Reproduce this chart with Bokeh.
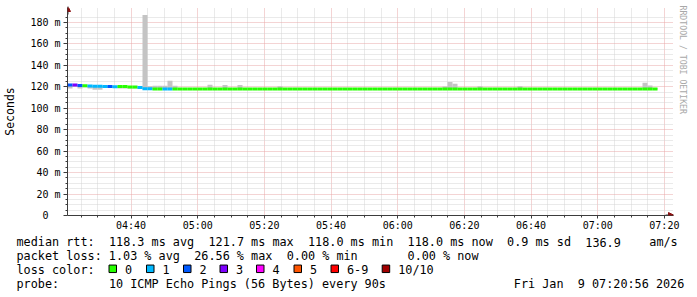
import re
import pandas as pd
from bokeh.plotting import figure
from bokeh.models import (ColumnDataSource, Range1d, FixedTicker, DatetimeTickFormatter,
                          Arrow, NormalHead, Title)
from bokeh.embed import file_html
from bokeh.resources import INLINE
from bokeh.core.properties import value

# ---------------- data ----------------
start_time = "2026-01-09 04:20:56"
end_time = "2026-01-09 07:20:56"
step_seconds = 90

median_ms = [
    121.7, 121.6, 121.2, 121.0, 120.7, 120.5, 120.5, 120.2, 120.2, 120.0,
    120.3, 120.3, 119.8, 119.8, 119.3, 118.3, 118.3, 118.0, 118.0, 118.0,
    118.0, 118.0, 118.0, 118.0, 118.0, 118.0, 118.0, 118.0, 118.0, 118.0,
    118.0, 118.0, 118.0, 118.0, 118.0, 118.0, 118.0, 118.0, 118.0, 118.0,
    118.0, 118.0, 118.0, 118.0, 118.0, 118.0, 118.0, 118.0, 118.0, 118.0,
    118.0, 118.0, 118.0, 118.0, 118.0, 118.0, 118.0, 118.0, 118.0, 118.0,
    118.0, 118.0, 118.0, 118.0, 118.0, 118.0, 118.0, 118.0, 118.0, 118.0,
    118.0, 118.0, 118.0, 118.0, 118.0, 118.0, 118.0, 118.0, 118.0, 118.0,
    118.0, 118.0, 118.0, 118.0, 118.0, 118.0, 118.0, 118.0, 118.0, 118.0,
    118.0, 118.0, 118.0, 118.0, 118.0, 118.0, 118.0, 118.0, 118.0, 118.0,
    118.0, 118.0, 118.0, 118.0, 118.0, 118.0, 118.0, 118.0, 118.0, 118.0,
    118.0, 118.0, 118.0, 118.0, 118.0, 118.0, 118.0, 118.0,
]

loss_count = [
    2, 3, 2, 0, 1, 1, 1, 1, 2, 1,
    0, 0, 0, 0, 1, 1, 1, 0, 0, 1,
    1, 0, 0, 0, 0, 0, 0, 0, 0, 0,
    0, 0, 0, 0, 0, 0, 0, 0, 0, 0,
    0, 0, 0, 0, 0, 0, 0, 0, 0, 0,
    0, 0, 0, 0, 0, 0, 0, 0, 0, 0,
    0, 0, 0, 0, 0, 0, 0, 0, 0, 0,
    0, 0, 0, 0, 0, 0, 0, 0, 0, 0,
    0, 0, 0, 0, 0, 0, 0, 0, 0, 0,
    0, 0, 0, 0, 0, 0, 0, 0, 0, 0,
    0, 0, 0, 0, 0, 0, 0, 0, 0, 0,
    0, 0, 0, 0, 0, 0, 0, 0,
]

smoke_hi = [
    122.0, 121.9, 121.5, 121.3, 121.0, 120.8, 120.8, 120.5, 120.5, 120.3,
    120.6, 120.6, 120.1, 120.1, 119.6, 187.0, 120.5, 121.0, 121.0, 121.0,
    125.6, 121.0, 119.0, 119.0, 119.0, 119.0, 119.0, 119.0, 121.9, 119.0,
    119.0, 121.8, 119.0, 119.0, 121.8, 119.0, 119.0, 119.0, 119.0, 119.0,
    119.0, 119.0, 120.5, 119.0, 119.0, 119.0, 119.0, 119.0, 119.0, 119.0,
    119.0, 119.0, 119.0, 119.0, 119.0, 119.0, 119.0, 119.0, 119.0, 119.0,
    119.0, 119.0, 119.0, 119.0, 119.0, 119.0, 119.0, 119.0, 119.0, 119.0,
    119.0, 119.0, 119.0, 119.0, 119.0, 120.2, 124.6, 122.8, 119.0, 119.0,
    119.0, 119.0, 120.5, 119.0, 119.0, 119.0, 119.0, 119.0, 119.0, 119.0,
    120.5, 119.0, 119.0, 119.0, 119.0, 119.0, 119.0, 119.0, 119.0, 119.0,
    119.0, 119.0, 119.0, 119.0, 119.0, 119.0, 119.0, 119.0, 119.0, 119.0,
    119.0, 119.0, 119.0, 119.0, 119.0, 123.8, 121.2, 119.0,
]

smoke_lo = [
    118.5, 120.0, 118.5, 119.5, 118.5, 117.2, 117.2, 119.0, 119.0, 119.0,
    118.5, 118.5, 118.5, 118.5, 118.0, 117.5, 117.5, 117.5, 117.5, 117.5,
    117.5, 117.5, 117.5, 117.5, 117.5, 117.5, 117.5, 117.5, 117.5, 117.5,
    117.5, 117.5, 117.5, 117.5, 117.5, 117.5, 117.5, 117.5, 117.5, 117.5,
    117.5, 117.5, 117.5, 117.5, 117.5, 117.5, 117.5, 117.5, 117.5, 117.5,
    117.5, 117.5, 117.5, 117.5, 117.5, 117.5, 117.5, 117.5, 117.5, 117.5,
    117.5, 117.5, 117.5, 117.5, 117.5, 117.5, 117.5, 117.5, 117.5, 117.5,
    117.5, 117.5, 117.5, 117.5, 117.5, 117.5, 117.5, 117.5, 117.5, 117.5,
    117.5, 117.5, 117.5, 117.5, 117.5, 117.5, 117.5, 117.5, 117.5, 117.5,
    117.5, 117.5, 117.5, 117.5, 117.5, 117.5, 117.5, 117.5, 117.5, 117.5,
    117.5, 117.5, 117.5, 117.5, 117.5, 117.5, 117.5, 117.5, 117.5, 117.5,
    117.5, 117.5, 117.5, 117.5, 117.5, 117.5, 117.5, 117.5,
]

x_tick_labels = ["04:40", "05:00", "05:20", "05:40", "06:00", "06:20", "06:40", "07:00", "07:20"]
y_ticks = [0, 20, 40, 60, 80, 100, 120, 140, 160, 180]
y_tick_labels = ["0\u00a0\u00a0", "20 m", "40 m", "60 m", "80 m", "100 m", "120 m", "140 m", "160 m", "180 m"]

loss_labels = ["0", "1", "2", "3", "4", "5", "6-9", "10/10"]
loss_colors = ["#26ff00", "#00b8ff", "#0059ff", "#7e00ff", "#ff00ff", "#ff5500", "#ff0000", "#a10000"]

row_rtt = "median rtt:  118.3 ms avg  121.7 ms max  118.0 ms min  118.0 ms now  0.9 ms sd  136.9    am/s"
row_loss = "packet loss: 1.03 % avg  26.56 % max  0.00 % min       0.00 % now"
row_color = "loss color:"
row_probe = "probe:       10 ICMP Echo Pings (56 Bytes) every 90s"
date_text = "Fri Jan  9 07:20:56 2026"
side_text = "RRDTOOL / TOBI OETIKER"
y_title = "Seconds"

# ---------------- styling constants ----------------
MONO = "DejaVu Sans Mono"
AXIS_COLOR = "#3c3c3c"
ARROW_COLOR = "#8b1010"
MINOR_GRID = "#d4d4d4"
MAJOR_GRID = "#e8a8a8"
SMOKE = "#c4c4c4"

W = 697
TOP_H = 233
BOT_H = 297 - TOP_H
FL, FR, FT, FB = 67, 673, 7, 216   # plotting frame (incl. arrow room) in canvas px
PX_PER_MIN = 600 / 180.0           # 600 px for 3 hours
PX_PER_UNIT = 200 / 185.6          # 200 px for 185.6 ms

t0 = pd.Timestamp(start_time)
t1 = pd.Timestamp(end_time)
day = start_time.split(" ")[0]
x_end = t1 + pd.Timedelta(minutes=(FR - 667) / PX_PER_MIN)
y_end = 185.6 + (216 - 200 - FT) / PX_PER_UNIT


def loss_class(n):
    if n <= 5:
        return n
    if n < 10:
        return 6
    return 7


n = len(median_ms)
lefts = [t0 + pd.Timedelta(seconds=step_seconds * i) for i in range(n)]
rights = [t0 + pd.Timedelta(seconds=step_seconds * (i + 1)) for i in range(n)]

src = ColumnDataSource(dict(
    left=lefts, right=rights, med=median_ms,
    lo=smoke_lo, hi=smoke_hi,
    color=[loss_colors[loss_class(k)] for k in loss_count],
))

p = figure(width=W, height=TOP_H, x_axis_type="datetime",
           x_range=Range1d(t0.to_pydatetime(), x_end.to_pydatetime()),
           y_range=Range1d(0, y_end),
           toolbar_location=None, output_backend="svg",
           min_border_left=FL, min_border_right=W - FR, min_border_top=FT,
           min_border_bottom=TOP_H - FB)
p.background_fill_color = "white"
p.border_fill_color = "white"
p.outline_line_color = None

# x ticks
major_x = [pd.Timestamp(day + " " + s) for s in x_tick_labels]
major_ms = [t.value / 1e6 for t in major_x]
minor_ms = []
tt = pd.Timestamp(day + " 04:25")
while tt <= t1:
    v = tt.value / 1e6
    if v not in major_ms:
        minor_ms.append(v)
    tt += pd.Timedelta(minutes=5)
p.xaxis.ticker = FixedTicker(ticks=major_ms, minor_ticks=minor_ms)
p.xaxis.formatter = DatetimeTickFormatter(minutes="%H:%M", hourmin="%H:%M", hours="%H:%M")

y_minor = [v for v in range(5, 186, 5) if v not in y_ticks]
p.yaxis.ticker = FixedTicker(ticks=y_ticks, minor_ticks=y_minor)
p.yaxis.major_label_overrides = {v: s for v, s in zip(y_ticks, y_tick_labels)}

for ax in (p.xaxis[0], p.yaxis[0]):
    ax.axis_line_color = AXIS_COLOR
    ax.major_tick_line_color = AXIS_COLOR
    ax.minor_tick_line_color = AXIS_COLOR
    ax.major_tick_in = 0
    ax.minor_tick_in = 0
    ax.minor_tick_out = 2
    ax.major_label_text_font = MONO
    ax.major_label_text_font_size = "10px"
    ax.major_label_text_color = "black"

p.xaxis.major_tick_out = 3
p.xaxis.major_label_standoff = 1
p.yaxis.major_tick_out = 4
p.yaxis.major_label_standoff = 3
p.yaxis.axis_label = y_title
p.yaxis.axis_label_text_font = MONO
p.yaxis.axis_label_text_font_size = "11.5px"
p.yaxis.axis_label_text_font_style = "normal"
p.yaxis.axis_label_text_color = "black"
p.yaxis.axis_label_standoff = 10

for g in (p.xgrid[0], p.ygrid[0]):
    g.grid_line_color = MAJOR_GRID
    g.grid_line_dash = "1 1"
    g.grid_line_width = 1
    g.minor_grid_line_color = MINOR_GRID
    g.minor_grid_line_dash = "1 1"
    g.minor_grid_line_width = 1

# smoke and median
p.quad(left="left", right="right", bottom="lo", top="hi", source=src,
       fill_color=SMOKE, line_color=None)
p.segment(x0="left", y0="med", x1="right", y1="med", source=src,
          line_color="color", line_width=3)

# axis arrow heads (inside the extended frame)
p.add_layout(Arrow(x_start=FR - FL - 8, y_start=0.5, x_end=FR - FL, y_end=0.5,
                   start_units="screen", end_units="screen",
                   line_color=AXIS_COLOR, line_width=1,
                   end=NormalHead(size=5, fill_color=ARROW_COLOR, line_color=ARROW_COLOR)))
p.add_layout(Arrow(x_start=0.5, y_start=FB - FT - 8, x_end=0.5, y_end=FB - FT,
                   start_units="screen", end_units="screen",
                   line_color=AXIS_COLOR, line_width=1,
                   end=NormalHead(size=5, fill_color=ARROW_COLOR, line_color=ARROW_COLOR)))

# side credit text
p.add_layout(Title(text=side_text, align="left", offset=-2, standoff=9,
                   text_font=MONO, text_font_size="8.2px", text_font_style="normal",
                   text_color="#a8a8a8"), "right")

# ---------------- legend / info area ----------------
q = figure(width=W, height=BOT_H, x_range=Range1d(0, W), y_range=Range1d(BOT_H, 0),
           x_axis_type=None, y_axis_type=None, toolbar_location=None,
           output_backend="svg", min_border=0)
q.outline_line_color = None
q.background_fill_color = "white"
q.border_fill_color = "white"

CW = 7.11
X0 = 16
tx, ty, tt_ = [], [], []


def add_row(s, cy, x0=X0):
    for m in re.finditer(r"\S+(?: \S+)*", s):
        tx.append(x0 + m.start() * CW)
        ty.append(cy - TOP_H)
        tt_.append(m.group(0))


add_row(row_rtt, 241.5)
add_row(row_loss, 255.3)
add_row(row_color, 269.3)
add_row(row_probe, 283.0)
add_row(date_text, 283.0, x0=513.3)

sq_left = [108.5, 146.0, 183.0, 219.5, 256.0, 293.5, 330.5, 381.7]
for xl, lab in zip(sq_left, loss_labels):
    add_row(lab, 269.3, x0=xl + 16)

q.text(x=tx, y=ty, text=tt_, text_font=value(MONO), text_font_size="11.8px",
       text_baseline="middle", text_align="left", text_color="black")
q.rect(x=[xl + 3.75 for xl in sq_left], y=[268.3 - TOP_H] * len(sq_left),
       width=7.5, height=7.5, fill_color=loss_colors, line_color="black", line_width=1)

open("out.html", "w").write(file_html([p, q], INLINE))
